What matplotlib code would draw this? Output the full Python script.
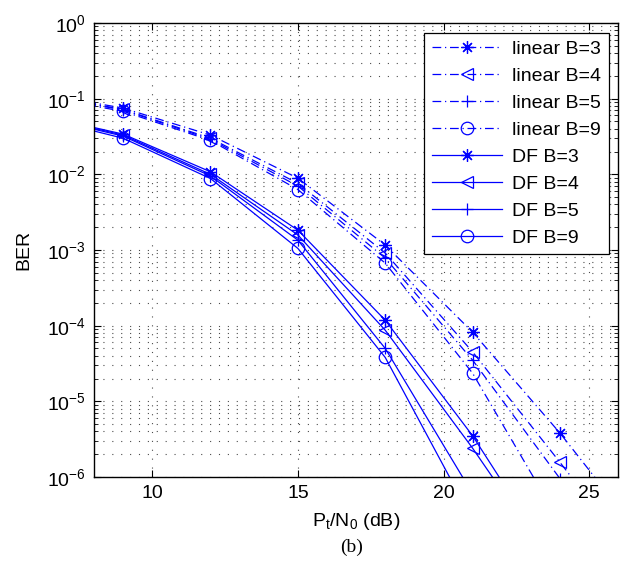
import matplotlib
matplotlib.use('Agg')
import matplotlib.pyplot as plt
import numpy as np
from matplotlib.ticker import LogLocator, NullFormatter

plt.rcParams['font.family'] = ['Liberation Sans', 'DejaVu Sans']
plt.rcParams['mathtext.fontset'] = 'custom'
plt.rcParams['mathtext.rm'] = 'Liberation Sans'
plt.rcParams['mathtext.it'] = 'Liberation Sans:italic'
plt.rcParams['mathtext.default'] = 'regular'

# SNR points (dB)
snr = [6, 9, 12, 15, 18, 21, 24, 27]

# linear receiver BER
lin_b3 = [0.120, 0.075, 0.033, 0.0089, 1.16e-3, 8.2e-5, 3.8e-6, 1.3e-7]
lin_b4 = [0.116, 0.072, 0.030, 0.0076, 9.1e-4, 4.5e-5, 1.56e-6, 5e-8]
lin_b5 = [0.113, 0.071, 0.029, 0.0070, 7.8e-4, 3.5e-5, 9.5e-7, 3e-8]
lin_b9 = [0.110, 0.068, 0.028, 0.0063, 6.7e-4, 2.35e-5, 2.5e-7, 5e-9]

# DF receiver BER
df_b3 = [0.062, 0.034, 0.0108, 1.83e-3, 1.18e-4, 3.5e-6, 5.6e-8, 1e-9]
df_b4 = [0.061, 0.033, 0.0100, 1.58e-3, 8.7e-5, 2.4e-6, 5e-8, 1e-9]
df_b5 = [0.060, 0.032, 0.0095, 1.35e-3, 5.0e-5, 6e-7, 1e-8, 1e-10]
df_b9 = [0.058, 0.030, 0.0088, 1.05e-3, 3.8e-5, 2.7e-7, 2e-9, 1e-11]

labels_lin = ['linear B=3', 'linear B=4', 'linear B=5', 'linear B=9']
labels_df = ['DF B=3', 'DF B=4', 'DF B=5', 'DF B=9']
markers = [(8, 2, 0), '<', '+', 'o']

fig = plt.figure(figsize=(6.32, 5.73), dpi=100)
ax = fig.add_axes([0.1487, 0.1675, 0.8296, 0.7924])

blue = (0, 0, 1)
for y, lab, m in zip([lin_b3, lin_b4, lin_b5, lin_b9], labels_lin, markers):
    ax.semilogy(snr, y, linestyle=(0, (7, 3, 1, 3)), color=blue, marker=m, markersize=9,
                markerfacecolor='none', markeredgecolor=blue, linewidth=0.9,
                markeredgewidth=0.9, label=lab)
for y, lab, m in zip([df_b3, df_b4, df_b5, df_b9], labels_df, markers):
    ax.semilogy(snr, y, linestyle='-', color=blue, marker=m, markersize=9,
                markerfacecolor='none', markeredgecolor=blue, linewidth=0.9,
                markeredgewidth=0.9, label=lab)

ax.set_xlim(8, 26)
ax.set_ylim(1e-6, 1)
ax.set_xticks([10, 15, 20, 25])
ax.yaxis.set_major_locator(LogLocator(base=10, numticks=10))
ax.yaxis.set_minor_locator(LogLocator(base=10, subs=np.arange(2, 10), numticks=20))
ax.yaxis.set_minor_formatter(NullFormatter())

ax.grid(True, which='major', axis='both', color='0.3', linestyle=(0, (1, 7)), linewidth=0.8)
ax.grid(True, which='minor', axis='y', color='0.3', linestyle=(0, (1, 7)), linewidth=0.8)

ax.tick_params(which='both', direction='in', top=True, right=True, labelsize=14)
ax.tick_params(which='major', length=5, pad=6)
ax.tick_params(which='minor', length=3)
for s in ax.spines.values():
    s.set_linewidth(1.0)

ax.set_ylabel('BER', fontsize=14, labelpad=10)
ax.set_xlabel('P$_\\mathrm{t}$/N$_0$ (dB)', fontsize=14, labelpad=6)

leg = ax.legend(loc='upper right', fontsize=14, handlelength=3.6, labelspacing=0.48,
                borderaxespad=0.5, fancybox=False, framealpha=1, edgecolor='black',
                borderpad=0.4, handletextpad=0.5)
leg.get_frame().set_linewidth(0.9)

fig.text(0.556, 0.044, '(b)', fontsize=14, family='Liberation Serif', ha='center', va='center')

fig.savefig('out.png', dpi=100)
